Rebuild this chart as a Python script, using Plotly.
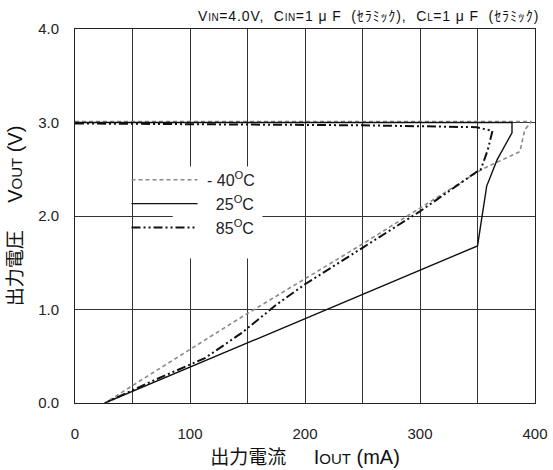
import plotly.graph_objects as go

# Output current (mA) vs output voltage (V) for three ambient temperatures.
# Each curve runs along the regulated level, then folds back toward the origin.
i_m40 = [0, 100, 200, 300, 397, 391, 387, 354, 300, 250, 176, 145, 97, 26]
v_m40 = [3.01, 3.01, 3.01, 3.01, 3.01, 2.92, 2.69, 2.50, 2.08, 1.70, 1.15, 0.92, 0.55, 0.0]

i_25 = [0, 100, 200, 300, 380, 380, 367, 358, 354, 350, 26]
v_25 = [3.0, 3.0, 3.0, 3.0, 3.0, 2.89, 2.60, 2.32, 2.00, 1.68, 0.0]

i_85 = [0, 150, 250, 349, 363, 359, 353, 349, 300, 250, 200, 175, 145, 113, 70, 26]
v_85 = [2.99, 2.98, 2.97, 2.95, 2.91, 2.71, 2.50, 2.47, 2.05, 1.66, 1.27, 1.05, 0.75, 0.48, 0.25, 0.0]

x_ticks = [0, 50, 100, 150, 200, 250, 300, 350, 400]
x_labels = ["0", "", "100", "", "200", "", "300", "", "400"]
y_ticks = [0, 1, 2, 3, 4]
y_labels = ["0.0", "1.0", "2.0", "3.0", "4.0"]

names = ["\u00a0- 40<sup>O</sup>C",
         "\u00a0\u00a0\u00a025<sup>O</sup>C",
         "\u00a0\u00a0\u00a085<sup>O</sup>C"]

NUM_FONT = "Liberation Sans, Arial, sans-serif"
JP_FONT = "Noto Sans CJK JP, Liberation Sans, sans-serif"
COND_FONT = "Liberation Sans, Noto Sans CJK JP, sans-serif"

fig = go.Figure()
fig.add_trace(go.Scatter(x=i_m40, y=v_m40, mode="lines", name=names[0],
                         line=dict(color="#8a8a8a", width=1.6, dash="4px,3px")))
fig.add_trace(go.Scatter(x=i_25, y=v_25, mode="lines", name=names[1],
                         line=dict(color="#111111", width=1.4)))
fig.add_trace(go.Scatter(x=i_85, y=v_85, mode="lines", name=names[2],
                         line=dict(color="#111111", width=2,
                                   dash="9px,3px,2px,3px,2px,3px")))

# white panel behind the legend, above the grid
fig.add_shape(type="rect", xref="x", yref="y", x0=85, x1=163, y0=1.545, y1=2.53,
              fillcolor="white", line=dict(width=0), layer="between")

sub = "<span style='font-size:10px;letter-spacing:0.5px'>{}</span>"
fig.add_annotation(
    xref="paper", yref="paper", x=1.012, y=1.0, xanchor="right", yanchor="bottom",
    yshift=3, showarrow=False,
    text=("<span style='letter-spacing:0.9px'>V" + sub.format("IN") + "=4.0V,  "
          "C" + sub.format("IN") + "=1 \u03bc F  (\uff7e\uff97\uff90\uff6f\uff78),  "
          "C" + sub.format("L") + "=1 \u03bc F  (\uff7e\uff97\uff90\uff6f\uff78)</span>"),
    font=dict(family=COND_FONT, size=14, color="#111"))

fig.update_layout(
    width=553, height=470,
    margin=dict(l=75, r=18, t=29, b=67, autoexpand=False),
    paper_bgcolor="white", plot_bgcolor="white",
    showlegend=True,
    legend=dict(x=0.112, y=0.642, xanchor="left", yanchor="top",
                bgcolor="rgba(0,0,0,0)", itemwidth=66,
                font=dict(family=NUM_FONT, size=16, color="#222"),
                tracegroupgap=0),
    xaxis=dict(range=[0, 400], tickvals=x_ticks, ticktext=x_labels,
               automargin=False,
               showgrid=True, gridcolor="#333", gridwidth=1, zeroline=False,
               showline=True, linecolor="#222", linewidth=1, mirror=True,
               ticks="", ticklabelstandoff=17,
               tickfont=dict(family=NUM_FONT, size=15, color="#222"),
               title=dict(text=("出力電流　\u00a0 <span style='font-family:Liberation Sans;font-size:20px'>I"
                                "<span style='font-size:15px'>OUT</span> (mA)</span>"),
                          font=dict(family=JP_FONT, size=19, color="#111"),
                          standoff=7)),
    yaxis=dict(range=[0, 4], tickvals=y_ticks, ticktext=y_labels,
               automargin=False,
               showgrid=True, gridcolor="#333", gridwidth=1, zeroline=False,
               showline=True, linecolor="#222", linewidth=1, mirror=True,
               ticks="", ticklabelstandoff=12,
               tickfont=dict(family=NUM_FONT, size=15, color="#222"),
               title=dict(text=("出力電圧　\u00a0 <span style='font-family:Liberation Sans;font-size:20px'>V"
                                "<span style='font-size:15px'>OUT</span> (V)</span>"),
                          font=dict(family=JP_FONT, size=19, color="#111"),
                          standoff=10)),
)

fig.write_html("out.html")
